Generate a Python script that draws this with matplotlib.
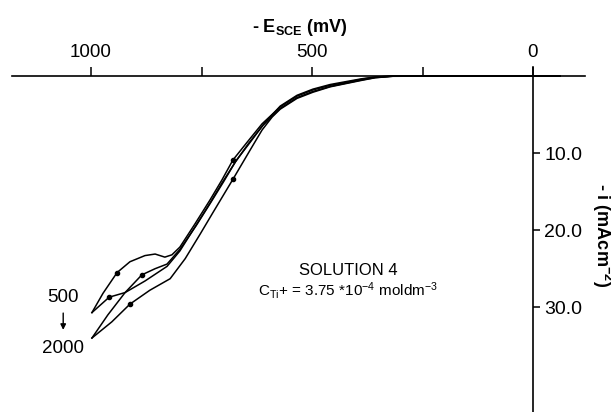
import matplotlib
matplotlib.use("Agg")
from matplotlib import pyplot as plt

plt.rcParams['font.family'] = ['Liberation Sans', 'DejaVu Sans']
plt.rcParams['mathtext.fontset'] = 'custom'
plt.rcParams['mathtext.rm'] = 'Liberation Sans'
plt.rcParams['mathtext.it'] = 'Liberation Sans'
plt.rcParams['mathtext.bf'] = 'Liberation Sans:bold'

# upper part where the four branches nearly coincide (mV, mA/cm2)
tail_e = [572, 534, 498, 459, 421, 387, 357, 317, 200, 0, -61]
tail_a_up = [4.0, 2.6, 1.8, 1.2, 0.8, 0.4, 0.15, 0.0, 0.0, 0.0, 0.0]
tail_a_lo = [4.2, 2.8, 2.0, 1.35, 0.9, 0.5, 0.2, 0.02, 0.0, 0.0, 0.0]
tail_b_up = [3.9, 2.5, 1.7, 1.1, 0.7, 0.35, 0.12, 0.0, 0.0, 0.0, 0.0]
tail_b_lo = [4.3, 2.9, 2.1, 1.4, 0.95, 0.55, 0.22, 0.03, 0.0, 0.0, 0.0]

# 500 mV/s loop
a_up_e = [998, 973, 941, 912, 878, 855, 833, 817, 799, 765, 731, 704, 679, 647, 613]
a_up_i = [30.7, 28.2, 25.5, 24.1, 23.3, 23.1, 23.5, 23.2, 22.2, 19.2, 16.1, 13.5, 10.9, 8.6, 6.2]
a_lo_e = [998, 959, 923, 878, 828, 799, 765, 731, 704, 674, 643, 611]
a_lo_i = [30.7, 28.7, 28.1, 26.6, 24.7, 22.7, 19.6, 16.5, 13.9, 11.2, 8.7, 6.4]

# 2000 mV/s loop
b_up_e = [998, 962, 923, 885, 855, 828, 799, 762, 729, 701, 672, 640, 609]
b_up_i = [34.0, 31.0, 28.1, 25.8, 25.0, 24.4, 22.5, 19.4, 16.4, 13.8, 11.0, 8.6, 6.2]
b_lo_e = [998, 953, 912, 867, 821, 787, 753, 724, 679, 640, 613, 590]
b_lo_i = [34.0, 31.9, 29.6, 27.8, 26.3, 23.7, 20.5, 17.7, 13.4, 9.6, 7.0, 5.3]

# small direction marks on the branches
mark_e = [941, 959, 885, 912, 679, 679]
mark_i = [25.5, 28.7, 25.8, 29.6, 10.9, 13.4]

x_ticks = [1000, 750, 500, 250, 0]
x_labels = ['1000', '', '500', '', '0']
y_ticks = [10, 20, 30]
y_labels = ['10.0', '20.0', '30.0']

fig = plt.figure(figsize=(6.11, 4.12), dpi=100)
ax = fig.add_axes([0, 0, 1, 1])
ax.set_xlim(1206, -176.5)
ax.set_ylim(43.6, -9.87)

branches = [(a_up_e, a_up_i, tail_a_up), (a_lo_e, a_lo_i, tail_a_lo),
            (b_up_e, b_up_i, tail_b_up), (b_lo_e, b_lo_i, tail_b_lo)]
for es, cs, tl in branches:
    ax.plot(es + tail_e, cs + tl, color='black', lw=1.1)
ax.plot(mark_e, mark_i, 'o', color='black', ms=3)

# axes drawn through the origin
for s in ['left', 'bottom']:
    ax.spines[s].set_visible(False)
ax.spines['top'].set_position(('data', 0))
ax.spines['top'].set_bounds(1179, -118)
ax.spines['right'].set_position(('data', 0))
ax.spines['right'].set_bounds(-1.2, 43.6)
for s in ['top', 'right']:
    ax.spines[s].set_linewidth(1.2)
ax.xaxis.tick_top()
ax.yaxis.tick_right()
ax.set_xticks(x_ticks)
ax.set_xticklabels(x_labels)
ax.set_yticks(y_ticks)
ax.set_yticklabels(y_labels)
ax.tick_params(axis='x', direction='out', length=6.5, width=1.1, labelsize=13.5, pad=4)
ax.tick_params(axis='y', direction='out', length=5, width=1.1, labelsize=14, pad=3)

fig.text(300 / 611, 1 - 27 / 412, r'- E$_{\mathbf{SCE}}$ (mV)', fontsize=13,
         fontweight='bold', ha='center', va='center')
fig.text(602 / 611, 1 - 235 / 412, r'- i (mAcm$^{\mathbf{-2}}$)', fontsize=13,
         fontweight='bold', ha='center', va='center', rotation=270)

ax.text(418, 25.3, 'SOLUTION 4', fontsize=12, ha='center', va='center')
ax.text(418, 27.8, r'C$_{\mathrm{Ti}}$+ = 3.75 *10$^{-4}$ moldm$^{-3}$', fontsize=11,
        ha='center', va='center')

ax.text(1063, 28.8, '500', fontsize=13.5, ha='center', va='center')
ax.text(1063, 35.3, '2000', fontsize=13.5, ha='center', va='center')
ax.annotate('', xy=(1063, 33.3), xytext=(1063, 30.4),
            arrowprops=dict(arrowstyle='-|>', color='black', lw=1, mutation_scale=8))

fig.savefig('out.png', dpi=100)
